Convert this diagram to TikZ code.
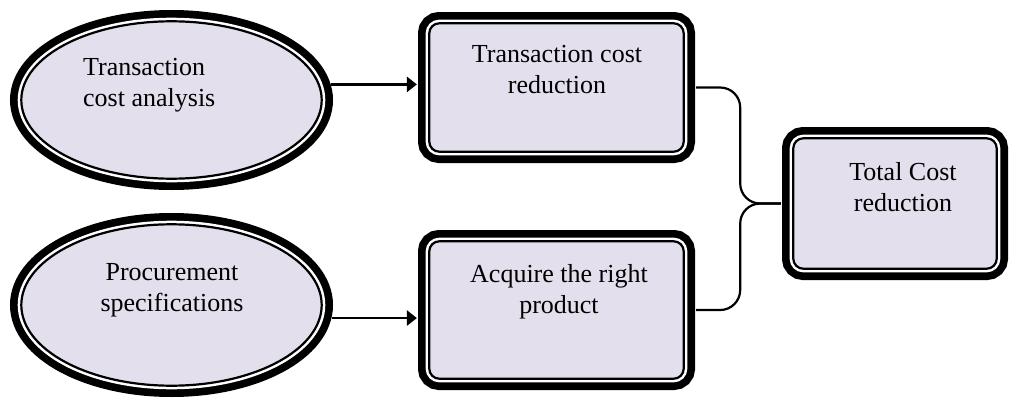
\documentclass[tikz,border=0pt]{standalone}
\usepackage{fontspec}
\setmainfont{Liberation Serif}
\usepackage{tikz}
\usetikzlibrary{arrows.meta,positioning,shapes.geometric}
\definecolor{lavfill}{HTML}{E4DFEC}

\begin{document}
\begin{tikzpicture}[x=1pt,y=-1pt,>={Triangle[length=10pt,width=15pt]},
                    framed/.style={fill=lavfill,draw=black,line width=2.2pt,inner sep=0pt,
                      preaction={draw=black,line width=22.6pt},
                      preaction={draw=white,line width=7.2pt}},
                    oval node/.style={framed,ellipse,minimum width=300.4pt},
                    box node/.style={framed,rectangle,rounded corners=10pt},
                    box text/.style={font=\fontsize{26pt}{31pt}\selectfont,inner sep=0pt,align=center},
                    link/.style={line width=2.6pt,shorten <=11.3pt,shorten >=11.3pt}]

  \useasboundingbox (0,0) rectangle (1010,399);

  \node[oval node,minimum height=157.4pt] (tca) at (171.5,100) {};
  \node[oval node,minimum height=161.4pt] (pcs) at (171.5,305) {};
  \node[box node,minimum width=254.4pt,minimum height=128.4pt] (tcr) at (556.5,87.5) {};
  \node[box node,minimum width=254.4pt,minimum height=137.4pt] (arp) at (556.5,310) {};
  \node[box node,minimum width=203.4pt,minimum height=130.4pt] (total) at (895,203.5) {};

  \node[box text,align=left,anchor=north west] (tcaText) at (83,58.5) {Transaction\\cost analysis};
  \node[box text,anchor=north] (pcsText) at (172,263) {Procurement\\specifications};
  \node[box text,anchor=north] (tcrText) at (557,45.5) {Transaction cost\\reduction};
  \node[box text,anchor=north] (arpText) at (559,264) {Acquire the right\\product};
  \node[box text,anchor=north] (totalText) at (903,162) {Total Cost\\reduction};

  \coordinate[left=52pt of total.west] (join);

  \path[->,link]
    (tca.6) edge (tca.6 -| tcr.west)
    (pcs.-5) edge (pcs.-5 -| arp.west);

  \draw[link,line width=2.2pt,rounded corners=20pt] (tcr.east) -| (join) -- (total.west);
  \draw[link,line width=2.2pt,rounded corners=20pt] (arp.east) -| (join) -- (total.west);
\end{tikzpicture}
\end{document}
